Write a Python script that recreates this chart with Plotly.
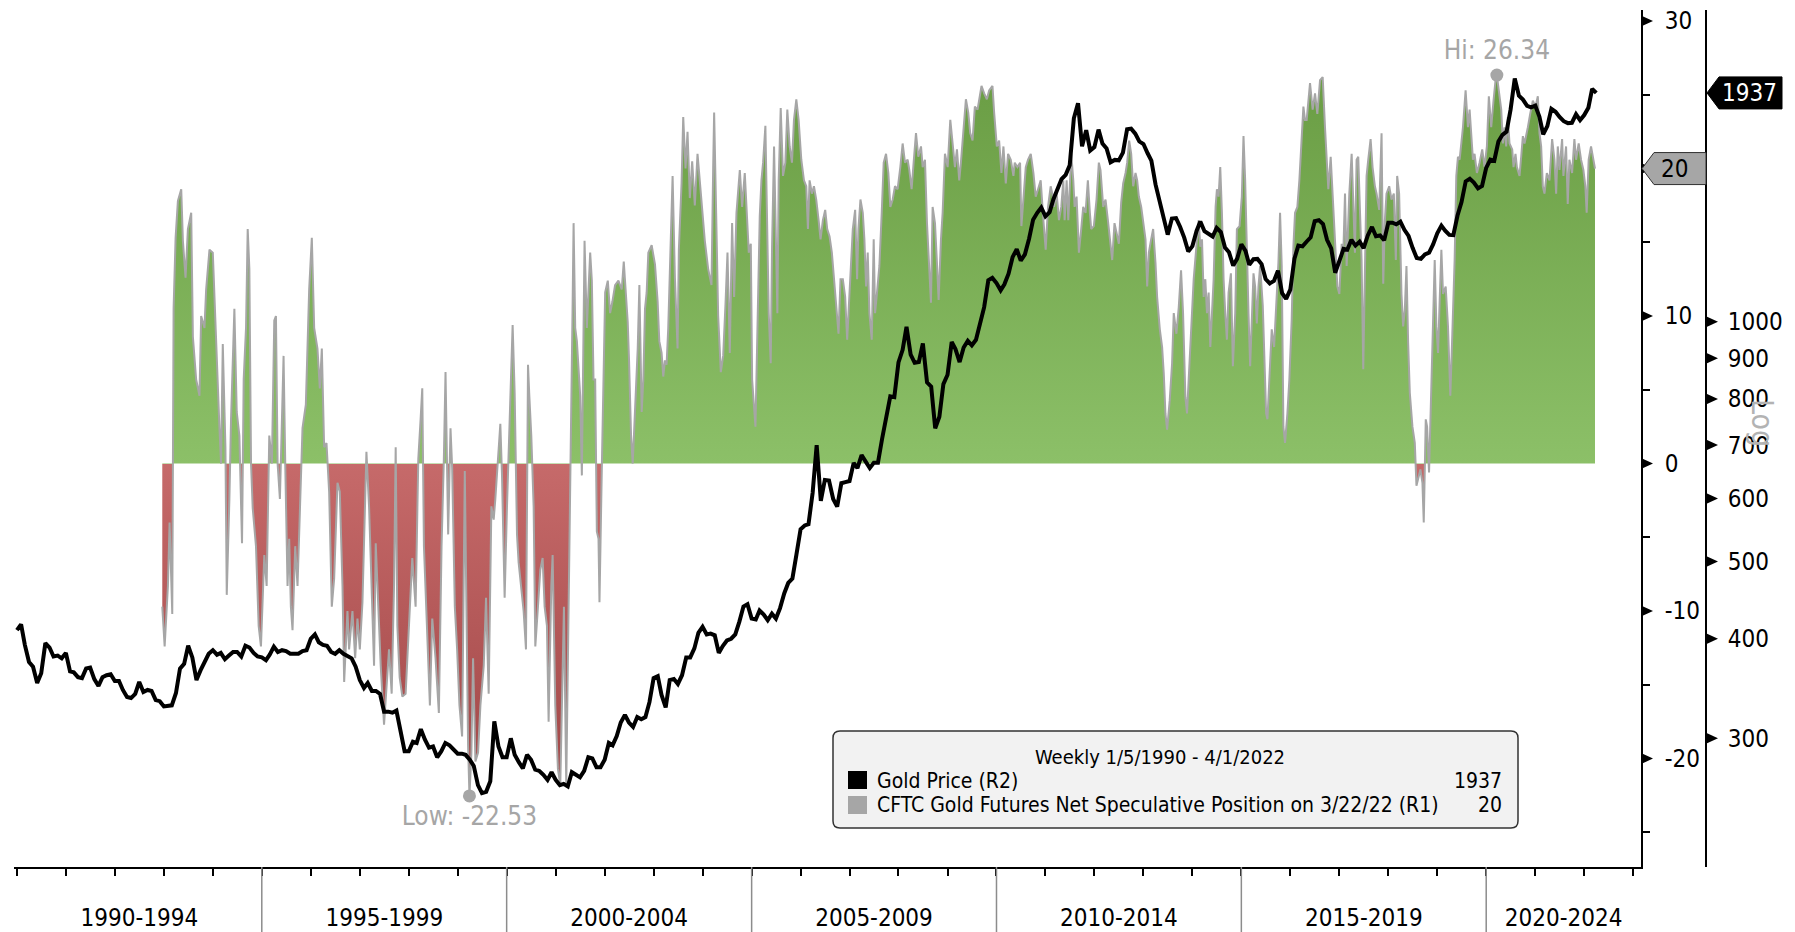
import numpy as np
import pandas as pd
import plotly.graph_objects as go

# ---------------- data ----------------
# Gold price, monthly (Jan 1990 .. Apr 2022)
gold_price = [
    410, 417, 393, 374, 369, 352, 362, 395, 390, 380, 381, 378,
    384, 364, 363, 358, 357, 367, 368, 356, 349, 358, 360, 361,
    354, 354, 345, 338, 337, 341, 353, 343, 345, 344, 335, 334,
    329, 330, 330, 342, 367, 372, 392, 379, 355, 365, 374, 383,
    387, 382, 384, 377, 381, 385, 385, 380, 392, 390, 384, 380,
    379, 376, 382, 391, 385, 387, 386, 383, 383, 383, 386, 387,
    400, 405, 396, 393, 392, 385, 383, 387, 383, 381, 378, 369,
    355, 347, 352, 344, 344, 341, 324, 324, 323, 325, 306, 289,
    289, 297, 296, 308, 299, 292, 293, 284, 289, 296, 294, 291,
    287, 287, 286, 282, 277, 262, 256, 257, 265, 315, 293, 284,
    284, 300, 286, 280, 275, 286, 282, 274, 273, 270, 266, 272,
    266, 262, 263, 261, 272, 270, 268, 273, 284, 283, 276, 276,
    282, 296, 294, 302, 314, 321, 314, 310, 319, 317, 319, 333,
    357, 359, 340, 328, 355, 356, 351, 360, 379, 379, 389, 407,
    414, 405, 406, 404, 384, 392, 398, 400, 405, 420, 439, 442,
    424, 423, 434, 429, 422, 430, 424, 437, 456, 470, 476, 510,
    549, 555, 557, 610, 700, 596, 633, 632, 599, 586, 627, 629,
    631, 665, 655, 680, 667, 655, 665, 665, 713, 754, 806, 804,
    889, 922, 985, 909, 888, 890, 939, 839, 829, 735, 760, 835,
    858, 943, 924, 890, 928, 946, 934, 949, 996, 1043, 1127, 1135,
    1118, 1095, 1114, 1149, 1205, 1233, 1193, 1215, 1271, 1343, 1370, 1391,
    1356, 1372, 1424, 1473, 1510, 1529, 1572, 1800, 1880, 1660, 1739, 1640,
    1656, 1742, 1673, 1650, 1585, 1596, 1594, 1630, 1744, 1747, 1722, 1684,
    1671, 1627, 1593, 1487, 1414, 1343, 1286, 1347, 1349, 1316, 1275, 1225,
    1244, 1300, 1336, 1299, 1287, 1279, 1311, 1296, 1239, 1222, 1176, 1200,
    1251, 1227, 1179, 1198, 1199, 1181, 1131, 1117, 1125, 1159, 1086, 1068,
    1097, 1200, 1246, 1243, 1260, 1276, 1337, 1341, 1326, 1267, 1236, 1152,
    1192, 1234, 1231, 1267, 1246, 1260, 1237, 1283, 1315, 1280, 1283, 1265,
    1331, 1331, 1325, 1335, 1304, 1281, 1238, 1202, 1199, 1215, 1221, 1250,
    1291, 1320, 1301, 1285, 1284, 1359, 1413, 1500, 1511, 1495, 1470, 1480,
    1560, 1597, 1592, 1683, 1716, 1732, 1847, 2020, 1921, 1900, 1866, 1858,
    1867, 1808, 1719, 1760, 1850, 1834, 1807, 1785, 1775, 1777, 1821, 1790,
    1817, 1856, 1960, 1937,
]

# CFTC net speculative position (decimal year, value)
cftc_year = [
    1992.967, 1993.015, 1993.082, 1993.116, 1993.171, 1993.198, 1993.239, 1993.286, 1993.354, 1993.388,
    1993.442, 1993.490, 1993.558, 1993.592, 1993.659, 1993.727, 1993.761, 1993.829, 1993.863, 1993.931,
    1993.999, 1994.067, 1994.135, 1994.168, 1994.203, 1994.257, 1994.284, 1994.338, 1994.372, 1994.440,
    1994.488, 1994.542, 1994.596, 1994.630, 1994.678, 1994.712, 1994.746, 1994.780, 1994.814, 1994.881,
    1994.936, 1994.983, 1995.051, 1995.099, 1995.153, 1995.207, 1995.255, 1995.289, 1995.323, 1995.370,
    1995.411, 1995.445, 1995.479, 1995.526, 1995.560, 1995.594, 1995.628, 1995.683, 1995.730, 1995.798,
    1995.832, 1995.900, 1995.968, 1996.022, 1996.070, 1996.137, 1996.185, 1996.226, 1996.273, 1996.321,
    1996.375, 1996.429, 1996.477, 1996.545, 1996.592, 1996.647, 1996.681, 1996.748, 1996.782, 1996.850,
    1996.905, 1996.952, 1997.000, 1997.054, 1997.108, 1997.135, 1997.190, 1997.244, 1997.291, 1997.325,
    1997.380, 1997.427, 1997.495, 1997.543, 1997.597, 1997.651, 1997.699, 1997.733, 1997.767, 1997.814,
    1997.869, 1997.936, 1998.004, 1998.072, 1998.140, 1998.195, 1998.242, 1998.276, 1998.310, 1998.378,
    1998.432, 1998.480, 1998.547, 1998.615, 1998.670, 1998.717, 1998.751,
    1998.805, 1998.853, 1998.887, 1998.941, 1998.988, 1999.036, 1999.090, 1999.145, 1999.212, 1999.240,
    1999.280, 1999.314, 1999.362, 1999.416, 1999.464, 1999.532, 1999.579, 1999.633, 1999.688, 1999.735,
    1999.769, 1999.823, 1999.871, 1999.905, 1999.959, 2000.007, 2000.054, 2000.095, 2000.122, 2000.163,
    2000.211, 2000.244, 2000.299, 2000.346, 2000.394, 2000.435, 2000.462, 2000.502, 2000.550, 2000.584,
    2000.638, 2000.686, 2000.733, 2000.774, 2000.821, 2000.855, 2000.910, 2000.937, 2000.991, 2001.045,
    2001.093, 2001.140, 2001.168, 2001.215, 2001.263, 2001.310, 2001.344, 2001.365, 2001.398, 2001.432,
    2001.466, 2001.500, 2001.534, 2001.568, 2001.589, 2001.636, 2001.670, 2001.704, 2001.738, 2001.772,
    2001.806, 2001.840, 2001.874, 2001.894, 2001.942, 2001.976, 2002.010, 2002.064, 2002.111, 2002.159,
    2002.213, 2002.281, 2002.349, 2002.390, 2002.430, 2002.471, 2002.498, 2002.539, 2002.573, 2002.620,
    2002.675, 2002.709, 2002.756, 2002.790, 2002.824, 2002.858, 2002.892, 2002.960, 2003.028, 2003.082,
    2003.116, 2003.163, 2003.197, 2003.231, 2003.265, 2003.299, 2003.347, 2003.388, 2003.435, 2003.489,
    2003.516, 2003.571, 2003.605, 2003.652, 2003.693, 2003.740, 2003.788, 2003.842, 2003.897, 2003.944,
    2003.998, 2004.046, 2004.114, 2004.182, 2004.216, 2004.236, 2004.277, 2004.318, 2004.372, 2004.420,
    2004.467, 2004.508,
    2004.555, 2004.602, 2004.643, 2004.691, 2004.759, 2004.806, 2004.860, 2004.894, 2004.942, 2004.983,
    2005.010, 2005.078, 2005.132, 2005.166, 2005.200, 2005.234, 2005.281, 2005.322, 2005.349, 2005.390,
    2005.417, 2005.458, 2005.505, 2005.526, 2005.553, 2005.594, 2005.641, 2005.689, 2005.729, 2005.777,
    2005.824, 2005.865, 2005.913, 2005.960, 2006.015, 2006.069, 2006.116, 2006.150, 2006.184, 2006.232,
    2006.273, 2006.320, 2006.368, 2006.408, 2006.456, 2006.503, 2006.544, 2006.592, 2006.639, 2006.680,
    2006.728, 2006.775, 2006.816, 2006.863, 2006.911, 2006.952, 2006.979, 2007.020, 2007.067, 2007.115,
    2007.155, 2007.182, 2007.223, 2007.271, 2007.304, 2007.338, 2007.372, 2007.406, 2007.454, 2007.494,
    2007.522, 2007.562, 2007.610, 2007.658, 2007.698, 2007.746, 2007.793, 2007.834, 2007.882, 2007.929,
    2007.983, 2008.038, 2008.085, 2008.133, 2008.187, 2008.221, 2008.268, 2008.309, 2008.357, 2008.404,
    2008.459, 2008.493, 2008.540, 2008.581, 2008.628, 2008.662, 2008.696, 2008.744, 2008.784, 2008.818,
    2008.866, 2008.900, 2008.947, 2009.002, 2009.056, 2009.103, 2009.151, 2009.192, 2009.239, 2009.273,
    2009.327, 2009.375, 2009.423, 2009.463, 2009.511, 2009.558, 2009.613, 2009.667, 2009.694, 2009.748,
    2009.803, 2009.850, 2009.918, 2009.952, 2010.007, 2010.054, 2010.101, 2010.142, 2010.190, 2010.237,
    2010.292, 2010.346, 2010.373, 2010.427,
    2010.482, 2010.509, 2010.550, 2010.598, 2010.645, 2010.700, 2010.754, 2010.801, 2010.849, 2010.903,
    2010.958, 2011.005, 2011.053, 2011.107, 2011.141, 2011.175, 2011.229, 2011.277, 2011.324, 2011.365,
    2011.392, 2011.433, 2011.467, 2011.501, 2011.528, 2011.569, 2011.596, 2011.636, 2011.684, 2011.731,
    2011.772, 2011.820, 2011.867, 2011.908, 2011.935, 2011.989, 2012.044, 2012.091, 2012.125, 2012.180,
    2012.227, 2012.275, 2012.315, 2012.363, 2012.410, 2012.451, 2012.499, 2012.546, 2012.587, 2012.635,
    2012.668, 2012.709, 2012.750, 2012.791, 2012.838, 2012.872, 2012.906, 2012.954, 2012.994, 2013.042,
    2013.076, 2013.110, 2013.157, 2013.198, 2013.246, 2013.279, 2013.334, 2013.381, 2013.415, 2013.449,
    2013.483, 2013.537, 2013.585, 2013.619, 2013.673, 2013.721, 2013.768, 2013.809, 2013.857, 2013.890,
    2013.924, 2013.958, 2013.992, 2014.026, 2014.081, 2014.128, 2014.162, 2014.196, 2014.230, 2014.264,
    2014.298, 2014.332, 2014.366, 2014.400, 2014.434, 2014.474, 2014.501, 2014.535, 2014.569, 2014.603,
    2014.637, 2014.671, 2014.705, 2014.739, 2014.787, 2014.827, 2014.875, 2014.909, 2014.963, 2015.010,
    2015.044, 2015.078, 2015.112, 2015.146, 2015.180, 2015.214, 2015.248, 2015.282, 2015.316, 2015.350,
    2015.384, 2015.438, 2015.465, 2015.506, 2015.533, 2015.574, 2015.621, 2015.669, 2015.710, 2015.757,
    2015.791, 2015.825, 2015.859, 2015.893, 2015.941, 2015.981, 2016.029, 2016.063, 2016.097, 2016.144,
    2016.185, 2016.233, 2016.267, 2016.300,
    2016.334, 2016.402, 2016.456, 2016.504, 2016.551, 2016.606, 2016.660, 2016.707, 2016.741, 2016.775,
    2016.823, 2016.864, 2016.911, 2016.959, 2017.000, 2017.047, 2017.081, 2017.115, 2017.149, 2017.203,
    2017.251, 2017.285, 2017.318, 2017.352, 2017.386, 2017.420, 2017.454, 2017.488, 2017.522, 2017.556,
    2017.590, 2017.638, 2017.678, 2017.726, 2017.760, 2017.814, 2017.862, 2017.896, 2017.930, 2017.963,
    2018.018, 2018.065, 2018.113, 2018.154, 2018.181, 2018.221, 2018.269, 2018.303, 2018.337, 2018.371,
    2018.405, 2018.439, 2018.493, 2018.541, 2018.575, 2018.609, 2018.656, 2018.697, 2018.724, 2018.765,
    2018.792, 2018.832, 2018.860, 2018.900, 2018.948, 2018.982, 2019.016, 2019.050, 2019.084, 2019.118,
    2019.172, 2019.219, 2019.267, 2019.308, 2019.355, 2019.389, 2019.423, 2019.457, 2019.491, 2019.525,
    2019.579, 2019.627, 2019.661, 2019.695, 2019.729, 2019.762, 2019.810, 2019.864, 2019.919, 2019.966,
    2020.014, 2020.054, 2020.102, 2020.149, 2020.190, 2020.217, 2020.258, 2020.306, 2020.340, 2020.373,
    2020.407, 2020.441, 2020.475, 2020.530, 2020.557, 2020.597, 2020.625, 2020.679, 2020.713, 2020.747,
    2020.781, 2020.815, 2020.849, 2020.896, 2020.950, 2021.005, 2021.052, 2021.086, 2021.120, 2021.154,
    2021.188, 2021.236, 2021.290, 2021.344, 2021.392, 2021.426, 2021.460, 2021.494, 2021.548, 2021.575,
    2021.629, 2021.663, 2021.697, 2021.752, 2021.799, 2021.833, 2021.887, 2021.935, 2021.983, 2022.023,
    2022.050, 2022.091, 2022.139, 2022.220,
]
cftc_value = [
    -9.7, -12.4, -8.3, -4.0, -10.2, 10.5, 15.3, 17.8, 18.6, 15.1,
    12.6, 15.9, 17.0, 8.6, 5.7, 4.6, 10.0, 9.2, 11.8, 14.5,
    14.3, 7.8, 2.4, 0.0, 8.1, 1.1, -8.9, -2.4, 3.0, 10.5,
    3.5, 1.9, -5.4, 5.7, 9.2, 15.9, 13.2, 0.0, -3.0, -5.6,
    -11.0, -12.4, -6.2, -8.3, 1.9, 0.0, 9.7, 10.0, 0.0, -2.4,
    3.5, 7.3, 0.0, -8.3, -5.1, -9.7, -11.3, -5.6, -8.3, -0.3,
    2.4, 4.0, 11.8, 15.3, 9.2, 7.8, 5.1, 7.8, 1.1, 1.4,
    -1.9, -9.7, -7.8, -1.3, -1.9, -8.3, -14.8, -10.0, -12.6, -10.0,
    -13.2, -10.5, -12.6, -9.4, -3.0, 0.8, -3.0, -8.3, -13.7, -5.4,
    -9.7, -13.7, -17.7, -15.0, -12.6, -15.6, -8.3, 1.1, -11.0, -14.5,
    -15.8, -15.6, -11.0, -6.4, -9.7, 0.3, 3.0, 5.1, -5.6, -12.4,
    -16.4, -10.5, -13.2, -16.9, -5.6, 0.3, 6.2,
    -4.8, 2.4, -0.3, -9.7, -12.6, -16.4, -18.5, -0.5, -19.1, -22.53,
    -19.6, -13.2, -20.2, -19.6, -16.4, -13.7, -9.1, -15.6, -2.9, -3.8,
    -2.4, 0.0, 2.7, -0.8, -9.1, -2.9, 1.9, 6.5, 9.4, 4.8,
    -4.8, -6.7, -8.3, -10.0, -12.6, 6.7, 4.6, 1.9, -2.9, -12.4,
    -9.7, -7.2, -6.4, -9.7, -11.0, -17.5, -8.3, -6.2, -16.4, -20.7,
    -21.8, -13.7, -9.7, -21.8, -11.0, -0.3, 10.5, 16.3, 9.2, 8.3,
    6.5, 4.6, -0.8, 9.2, 15.1, 9.2, 11.8, 14.3, 12.4, 5.7,
    5.7, -4.6, -5.1, -9.4, -0.3, 5.7, 11.6, 12.4, 10.2, 11.0,
    12.1, 12.4, 11.8, 13.7, 11.8, 9.6, 7.0, 1.9, 0.0, 3.5,
    7.8, 12.1, 3.5, 5.7, 10.5, 11.6, 14.3, 14.8, 13.5, 11.0,
    8.3, 7.5, 5.9, 7.0, 6.7, 9.2, 15.9, 19.5, 12.6, 7.8,
    14.5, 19.0, 23.5, 20.0, 22.5, 18.0, 20.5, 17.5, 21.0, 19.0,
    17.0, 15.1, 13.2, 12.1, 20.0, 23.8, 17.0, 10.0, 6.2, 7.3,
    10.8, 14.3,
    7.5, 16.3, 11.3, 17.0, 19.9, 17.4, 19.7, 17.0, 14.3, 14.9,
    5.7, 2.5, 11.3, 16.8, 19.2, 20.4, 22.9, 14.7, 10.2, 6.8,
    14.7, 21.5, 13.8, 10.2, 19.2, 24.1, 19.5, 20.4, 24.0, 21.5,
    20.4, 23.3, 24.7, 23.3, 20.6, 19.2, 18.8, 15.9, 19.2, 18.3,
    18.8, 17.9, 16.5, 15.2, 16.5, 17.2, 15.9, 15.4, 14.3, 12.5,
    10.2, 8.8, 12.5, 12.5, 11.3, 8.4, 10.2, 12.9, 15.9, 17.2,
    12.5, 15.9, 17.9, 17.0, 15.2, 12.0, 14.3, 10.2, 8.4, 15.2,
    10.2, 11.6, 13.4, 17.0, 20.4, 21.0, 19.7, 17.4, 17.9, 18.8,
    18.6, 20.1, 21.7, 20.4, 20.6, 19.9, 18.6, 20.4, 22.4, 20.8,
    21.5, 20.1, 20.6, 16.3, 12.5, 10.9, 17.4, 16.3, 13.6, 11.1,
    15.2, 17.0, 21.0, 20.1, 23.3, 21.7, 20.1, 21.3, 19.2, 20.4,
    22.4, 24.7, 23.8, 22.4, 21.9, 24.2, 24.0, 24.9, 25.6, 25.1,
    24.7, 25.3, 25.6, 23.8, 21.5, 21.9, 19.7, 21.5, 19.0, 21.0,
    20.6, 19.5, 20.4, 20.1,
    20.4, 16.1, 18.1, 20.1, 20.6, 21.0, 19.7, 18.1, 18.6, 19.2,
    16.5, 14.5, 17.4, 18.8, 18.3, 17.4, 18.3, 16.5, 17.4, 19.2,
    16.5, 19.2, 16.5, 19.7, 21.0, 19.2, 17.4, 18.1, 14.3, 15.9,
    17.4, 17.0, 19.2, 17.0, 15.9, 16.1, 17.9, 20.4, 19.9, 17.4,
    17.9, 16.5, 15.4, 13.8, 16.3, 15.6, 14.9, 17.7, 19.0, 19.7,
    20.4, 21.9, 21.0, 18.8, 19.7, 19.2, 18.1, 17.4, 16.5, 15.2,
    12.0, 14.3, 15.2, 15.9, 13.6, 11.3, 9.1, 7.9, 6.1, 3.4,
    2.3, 4.3, 6.8, 10.2, 8.8, 10.6, 13.1, 10.2, 4.5, 3.4,
    5.7, 7.9, 10.2, 12.5, 14.7, 16.5, 14.7, 15.2, 11.3, 12.5,
    10.2, 11.6, 7.9, 9.8, 12.5, 17.4, 18.6, 18.1, 20.1, 17.0,
    12.5, 10.2, 8.4, 11.6, 12.9, 6.6, 10.2, 15.9, 16.1, 18.1,
    22.2, 19.2, 13.4, 10.2, 6.6, 10.2, 12.9, 12.0, 9.5, 12.0,
    13.4, 10.7, 7.9, 3.4, 3.0, 5.7, 9.1, 7.9, 10.2, 13.6,
    17.0, 13.4, 2.5, 1.4, 3.4, 5.7, 9.8, 14.7, 17.0, 17.4,
    19.2, 22.6, 24.2, 23.3,
    23.3, 25.8, 24.0, 25.1, 23.7, 26.0, 26.2, 22.8, 20.6, 18.6,
    20.8, 17.9, 14.7, 12.0, 11.5, 14.9, 14.3, 18.3, 13.4, 18.3,
    21.0, 17.4, 14.3, 20.6, 20.8, 17.2, 13.8, 6.4, 13.8, 19.5,
    20.6, 22.0, 20.1, 18.8, 18.3, 17.2, 22.4, 12.2, 16.5, 18.3,
    18.8, 17.9, 18.3, 13.8, 19.5, 18.3, 11.5, 9.3, 10.4, 13.4,
    8.2, 4.8, 2.5, 1.4, -1.5, -1.1, -0.4, -1.3, -4.0, 3.0,
    2.5, -0.6, 2.5, 8.2, 13.8, 9.3, 7.5, 11.1, 14.5, 11.5,
    12.0, 9.3, 4.6, 8.8, 13.8, 19.5, 20.8, 20.6, 21.5, 22.8,
    25.3, 22.8, 24.0, 22.0, 20.6, 21.0, 19.7, 20.4, 21.3, 20.1,
    21.5, 24.9, 22.8, 24.6, 26.0, 26.34, 25.1, 24.0, 21.7, 22.8,
    21.5, 23.5, 21.7, 21.3, 20.1, 21.0, 20.1, 19.5, 20.8, 22.2,
    21.7, 22.2, 22.8, 23.7, 24.6, 24.2, 24.9, 22.4, 21.5, 18.8,
    18.3, 19.7, 19.2, 22.0, 20.6, 18.3, 21.5, 19.9, 22.0, 19.5,
    21.5, 17.6, 20.6, 19.7, 22.0, 20.6, 21.7, 20.6, 19.9, 18.8,
    17.0, 20.6, 21.5, 20.0,
]

r1_tickvals = [-20, -10, 0, 10, 20, 30]
r1_minorvals = [-25, -15, -5, 5, 15, 25]
r2_tickvals = [300, 400, 500, 600, 700, 800, 900, 1000]
period_starts = [1990, 1995, 2000, 2005, 2010, 2015, 2020]
period_labels = ["1990-1994", "1995-1999", "2000-2004", "2005-2009",
                 "2010-2014", "2015-2019", "2020-2024"]
legend_title = "Weekly 1/5/1990 - 4/1/2022"
gold_name = "Gold Price (R2)"
cftc_name = "CFTC Gold Futures Net Speculative Position on 3/22/22 (R1)"

assert len(cftc_year) == len(cftc_value)

# ---------------- layout helpers ----------------
# The page body adds an 8px margin, so the figure is drawn 8px in from the
# top-left corner of the window.  All "px" values below are window pixels.
OFF = 8
W, H = 1795 - OFF, 932 - OFF
ML, MT = 14 - OFF, 10 - OFF
MR = W - (1706 - OFF)
MB = H - (867 - OFF)
PW, PH = W - ML - MR, H - MT - MB
X_START, X_END = 1989.94, 2023.16
R1 = (-27.35, 30.75)
R2 = (2.3156, 3.3912)
XDOM = (1641 - OFF - ML) / PW
FONT = "DejaVu Sans Condensed, Liberation Sans Narrow, DejaVu Sans, sans-serif"


def dec_to_ts(y):
    yr = int(np.floor(y))
    a, b = pd.Timestamp(yr, 1, 1), pd.Timestamp(yr + 1, 1, 1)
    return a + (b - a) * (y - yr)


def pxx(px):
    return (px - OFF - ML) / PW


def pxy(py):
    return (H - MB - (py - OFF)) / PH


def r1_py(v):
    return OFF + MT + (R1[1] - v) / (R1[1] - R1[0]) * PH


def r2_py(v):
    return OFF + MT + (R2[1] - np.log10(v)) / (R2[1] - R2[0]) * PH


gold_dates = pd.date_range("1990-01-01", periods=len(gold_price), freq="MS")
cftc_dates = [dec_to_ts(t) for t in cftc_year]
vmin, vmax = min(cftc_value), max(cftc_value)
i_min, i_max = cftc_value.index(vmin), cftc_value.index(vmax)
f0 = (0 - vmin) / (vmax - vmin)

fig = go.Figure()

fig.add_trace(go.Scatter(
    x=cftc_dates, y=cftc_value, mode="lines", yaxis="y",
    line=dict(color="#a6a6a6", width=2),
    fill="tozeroy",
    fillgradient=dict(type="vertical", start=vmin, stop=vmax,
                      colorscale=[[0, "#a04646"], [f0 - 1e-4, "#c66a6a"],
                                  [f0, "#8cc068"], [1, "#6a9d44"]]),
    showlegend=False, hoverinfo="skip"))

fig.add_trace(go.Scatter(
    x=[cftc_dates[i_max], cftc_dates[i_min]], y=[vmax, vmin],
    mode="markers+text", yaxis="y",
    marker=dict(color="#a6a6a6", size=13),
    text=[f"Hi: {vmax:.2f}", f"Low: {vmin:.2f}"],
    textposition=["top center", "bottom center"],
    textfont=dict(family=FONT, size=26, color="#a6a6a6"),
    cliponaxis=False, showlegend=False, hoverinfo="skip"))

fig.add_trace(go.Scatter(
    x=gold_dates, y=gold_price, mode="lines", yaxis="y2",
    line=dict(color="black", width=4),
    showlegend=False, hoverinfo="skip"))

# ---------------- axes ----------------
centers = [(s + min(s + 5, X_END)) / 2 for s in period_starts]
AX_FONT = dict(family=FONT, size=24, color="black")
fig.update_layout(
    width=W, height=H,
    margin=dict(l=ML, r=MR, t=MT, b=MB, autoexpand=False),
    paper_bgcolor="white", plot_bgcolor="white",
    font=dict(family=FONT, size=24, color="black"),
    xaxis=dict(
        type="date", domain=[0, XDOM], automargin=False,
        range=[dec_to_ts(X_START), dec_to_ts(X_END)],
        showline=True, linecolor="black", linewidth=2,
        showgrid=False, zeroline=False,
        tickvals=[dec_to_ts(c) for c in centers], ticktext=period_labels,
        ticks="", ticklabelstandoff=28, ticklabeloverflow="allow",
        tickfont=AX_FONT,
        minor=dict(ticks="outside", ticklen=7, tickwidth=1.5, tickcolor="black",
                   dtick="M12", tick0="1990-01-01", showgrid=False),
    ),
    yaxis=dict(
        range=list(R1), side="right", anchor="x", automargin=False,
        showline=True, linecolor="black", linewidth=2,
        showgrid=False, zeroline=False,
        tickvals=r1_tickvals,
        ticktext=["" if v == round(cftc_value[-1]) else str(v) for v in r1_tickvals],
        ticks="", ticklabelstandoff=17, ticklabeloverflow="allow",
        tickfont=AX_FONT,
        minor=dict(tickvals=r1_minorvals, ticks="outside", ticklen=7,
                   tickwidth=1.5, tickcolor="black", showgrid=False),
    ),
    yaxis2=dict(
        type="log", range=list(R2), overlaying="y", side="right",
        anchor="free", position=1.0, automargin=False,
        showline=True, linecolor="black", linewidth=2,
        showgrid=False, zeroline=False,
        tickvals=r2_tickvals, ticktext=[str(v) for v in r2_tickvals],
        ticks="", ticklabelstandoff=16, ticklabeloverflow="allow",
        tickfont=AX_FONT,
    ),
)

shapes = []
annotations = []

# triangle tick markers
for v in r1_tickvals:
    py = r1_py(v)
    shapes.append(dict(type="path", xref="paper", yref="paper",
                       path=f"M {pxx(1641)},{pxy(py - 5.5)} L {pxx(1653)},{pxy(py)} L {pxx(1641)},{pxy(py + 5.5)} Z",
                       fillcolor="black", line=dict(width=0)))
for v in r2_tickvals:
    py = r2_py(v)
    shapes.append(dict(type="path", xref="paper", yref="paper",
                       path=f"M {pxx(1706)},{pxy(py - 5.5)} L {pxx(1718)},{pxy(py)} L {pxx(1706)},{pxy(py + 5.5)} Z",
                       fillcolor="black", line=dict(width=0)))

# period dividers below the x axis
for s in period_starts[1:]:
    shapes.append(dict(type="line", xref="x", yref="paper",
                       x0=dec_to_ts(s), x1=dec_to_ts(s), y0=0, y1=-MB / PH,
                       line=dict(color="#8c8c8c", width=1.5)))

# last value tags
py = r2_py(gold_price[-1])
shapes.append(dict(type="path", xref="paper", yref="paper",
                   path=(f"M {pxx(1707)},{pxy(py)} L {pxx(1719)},{pxy(py - 16)} L {pxx(1782)},{pxy(py - 16)} "
                         f"L {pxx(1782)},{pxy(py + 16)} L {pxx(1719)},{pxy(py + 16)} Z"),
                   fillcolor="black", line=dict(color="black", width=1)))
annotations.append(dict(xref="paper", yref="paper", x=pxx(1750), y=pxy(py),
                        text=f"{gold_price[-1]:.0f}", showarrow=False,
                        font=dict(family=FONT, size=24, color="white"),
                        xanchor="center", yanchor="middle"))
py = r1_py(cftc_value[-1])
shapes.append(dict(type="path", xref="paper", yref="paper",
                   path=(f"M {pxx(1642)},{pxy(py)} L {pxx(1654)},{pxy(py - 16)} L {pxx(1706)},{pxy(py - 16)} "
                         f"L {pxx(1706)},{pxy(py + 16)} L {pxx(1654)},{pxy(py + 16)} Z"),
                   fillcolor="#a6a6a6", line=dict(color="#303030", width=1)))
annotations.append(dict(xref="paper", yref="paper", x=pxx(1674), y=pxy(py),
                        text=f"{cftc_value[-1]:.0f}", showarrow=False,
                        font=dict(family=FONT, size=24, color="black"),
                        xanchor="center", yanchor="middle"))

# "Log" marker
annotations.append(dict(xref="paper", yref="paper", x=pxx(1762), y=pxy(423),
                        text="Log", textangle=90, showarrow=False,
                        font=dict(family=FONT, size=30, color="#b3b3b3"),
                        xanchor="center", yanchor="middle"))

# legend box
bx0, bx1, by0, by1 = pxx(833), pxx(1518), pxy(828), pxy(731)
rx, ry = 7 / PW, 7 / PH
shapes.append(dict(type="path", xref="paper", yref="paper",
                   path=(f"M {bx0 + rx},{by1} L {bx1 - rx},{by1} Q {bx1},{by1} {bx1},{by1 - ry} "
                         f"L {bx1},{by0 + ry} Q {bx1},{by0} {bx1 - rx},{by0} L {bx0 + rx},{by0} "
                         f"Q {bx0},{by0} {bx0},{by0 + ry} L {bx0},{by1 - ry} Q {bx0},{by1} {bx0 + rx},{by1} Z"),
                   fillcolor="#f2f2f2", line=dict(color="#333333", width=1.5), layer="above"))
for (ytop, col) in [(771, "black"), (796, "#a6a6a6")]:
    shapes.append(dict(type="rect", xref="paper", yref="paper",
                       x0=pxx(848), x1=pxx(867), y0=pxy(ytop + 18), y1=pxy(ytop),
                       fillcolor=col, line=dict(width=0), layer="above"))
LF = dict(family=FONT, size=21, color="black")
annotations.append(dict(xref="paper", yref="paper", x=pxx(1160), y=pxy(757),
                        text=legend_title, showarrow=False,
                        font=dict(family=FONT, size=20, color="black"),
                        xanchor="center", yanchor="middle"))
for (yc, name, val) in [(781, gold_name, f"{gold_price[-1]:.0f}"),
                        (805, cftc_name, f"{cftc_value[-1]:.0f}")]:
    annotations.append(dict(xref="paper", yref="paper", x=pxx(875), y=pxy(yc),
                            text=name, showarrow=False, font=LF,
                            xanchor="left", yanchor="middle"))
    annotations.append(dict(xref="paper", yref="paper", x=pxx(1504), y=pxy(yc),
                            text=val, showarrow=False, font=LF,
                            xanchor="right", yanchor="middle"))

fig.update_layout(shapes=shapes, annotations=annotations)
fig.write_html("out.html")
